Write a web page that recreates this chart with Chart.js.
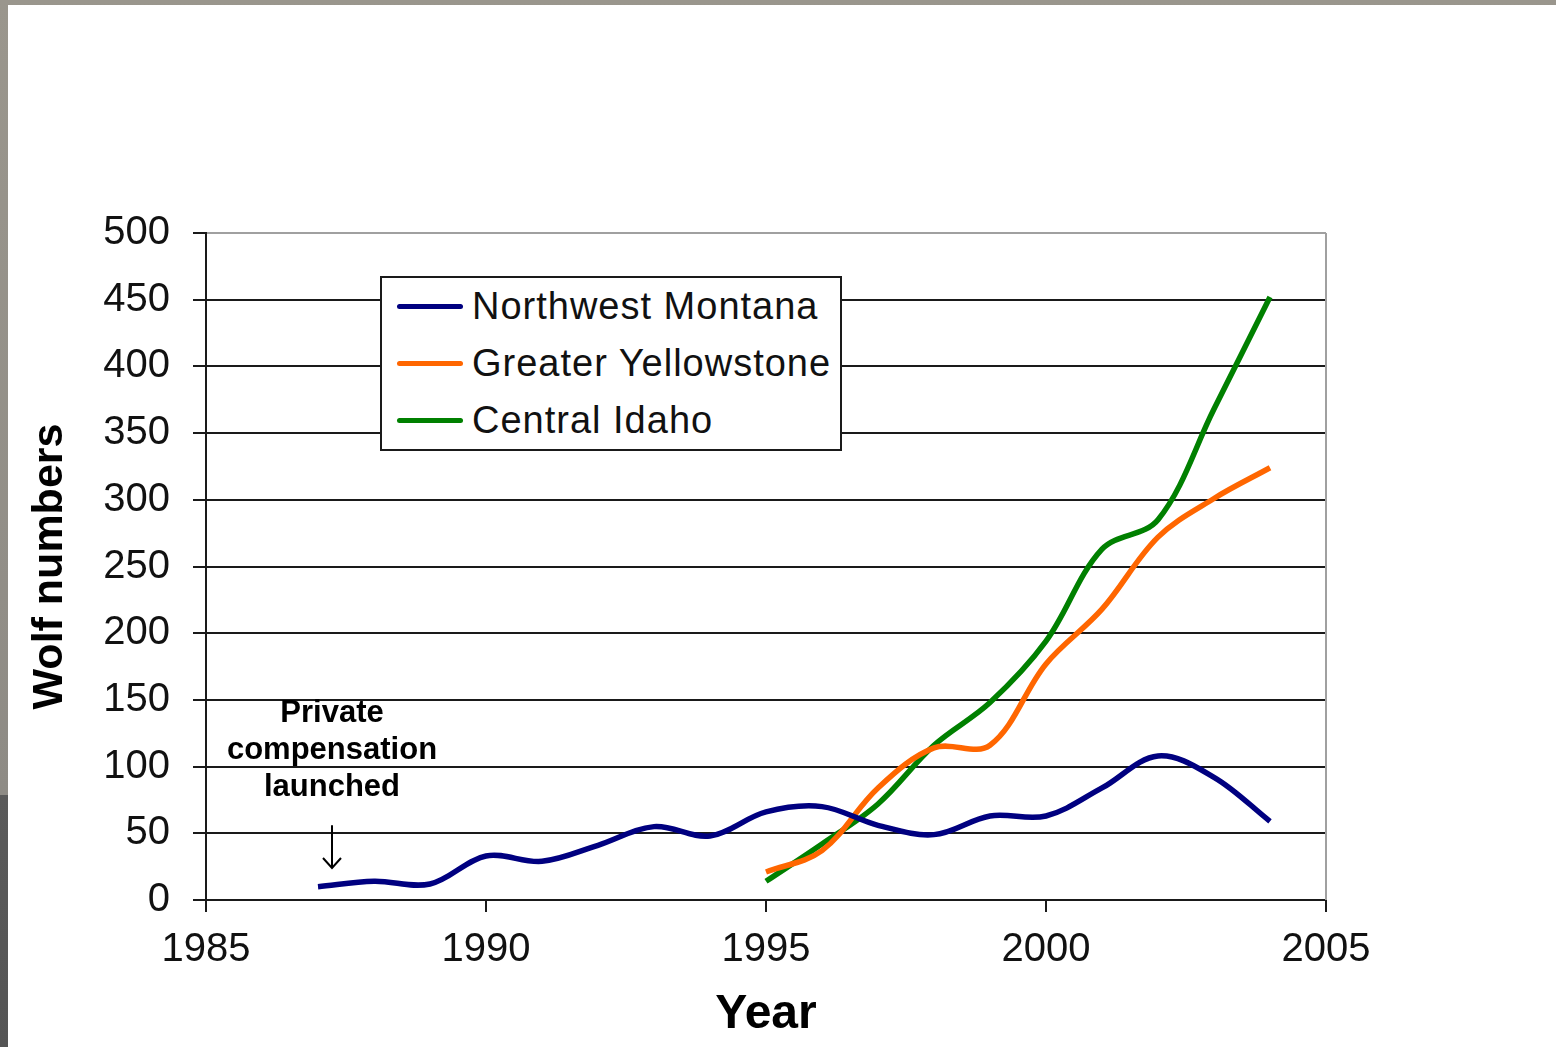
<!DOCTYPE html>
<html>
<head>
<meta charset="utf-8">
<title>Wolf numbers</title>
<script src="https://cdn.jsdelivr.net/npm/chart.js@4.4.1/dist/chart.umd.min.js"></script>
<style>
    html, body { margin: 0; padding: 0; }
    body {
        width: 1556px;
        height: 1047px;
        overflow: hidden;
        position: relative;
        background: linear-gradient(to bottom, #9a968d 0, #8e8b85 795px, #5a5a5a 795px, #555555 1047px);
    }
    #frame {
        position: absolute;
        left: 8px;
        top: 5px;
        width: 1548px;
        height: 1042px;
        background: #ffffff;
    }
    #legend {
        position: absolute;
        left: 380px;
        top: 276px;
        width: 458px;
        height: 171px;
        border: 2px solid #1a1a1a;
        background: #ffffff;
        font-family: "Liberation Sans", Arial, sans-serif;
        font-size: 38px;
        letter-spacing: 1px;
        color: #111;
    }
    #legend .row {
        height: 57px;
        display: flex;
        align-items: center;
    }
    #legend .swatch {
        width: 66px;
        height: 5px;
        border-radius: 3px;
        margin-left: 15px;
        margin-right: 9px;
    }
</style>
</head>
<body>
<div id="frame">
    <canvas id="wolfChart" width="1548" height="1042"></canvas>
</div>
<div id="legend"></div>

<script>
/* ========================================
   Wolf numbers by recovery area
   ======================================== */

// Data
const montanaYears = [1987, 1988, 1989, 1990, 1991, 1992, 1993, 1994, 1995,
                      1996, 1997, 1998, 1999, 2000, 2001, 2002, 2003, 2004];
const montanaWolves = [10, 14, 12, 33, 29, 41, 55, 48, 66,
                       70, 56, 49, 63, 63, 84, 108, 92, 59];

const reintroYears = [1995, 1996, 1997, 1998, 1999, 2000, 2001, 2002, 2003, 2004];
const yellowstoneWolves = [21, 37, 84, 114, 116, 177, 218, 272, 301, 324];
const idahoWolves = [14, 42, 72, 116, 148, 194, 263, 285, 368, 452];

const seriesNames = ['Northwest Montana', 'Greater Yellowstone', 'Central Idaho'];
const seriesColors = ['#000080', '#ff6600', '#008000'];

const xTicks = [1985, 1990, 1995, 2000, 2005];
const yTicks = [0, 50, 100, 150, 200, 250, 300, 350, 400, 450, 500];

// "Private compensation launched" note
const noteLines = ['Private', 'compensation', 'launched'];
const noteYear = 1987.25;
const noteTextLevels = [140, 112, 84];
const noteArrow = [56, 24];

const TICK_FONT = { family: '"Liberation Sans", Arial, sans-serif', size: 40 };
const INK = '#1a1a1a';

function toPoints(xs, ys) {
    return xs.map((x, i) => ({ x: x, y: ys[i] }));
}

// Gray frame on the right side of the plot
const plotFramePlugin = {
    id: 'plotFrame',
    afterDraw(chart) {
        const { ctx, chartArea } = chart;
        ctx.save();
        ctx.strokeStyle = '#a0a0a0';
        ctx.lineWidth = 2;
        ctx.beginPath();
        ctx.moveTo(chartArea.right, chartArea.top);
        ctx.lineTo(chartArea.right, chartArea.bottom);
        ctx.stroke();
        ctx.restore();
    }
};

// Annotation text and arrow, placed through the scales
const notePlugin = {
    id: 'note',
    afterDraw(chart) {
        const { ctx, scales } = chart;
        const x = scales.x.getPixelForValue(noteYear);
        ctx.save();
        ctx.fillStyle = '#000';
        ctx.font = 'bold 31px "Liberation Sans", Arial, sans-serif';
        ctx.textAlign = 'center';
        ctx.textBaseline = 'middle';
        noteLines.forEach((line, i) => {
            ctx.fillText(line, x, scales.y.getPixelForValue(noteTextLevels[i]));
        });

        const y0 = scales.y.getPixelForValue(noteArrow[0]);
        const y1 = scales.y.getPixelForValue(noteArrow[1]);
        ctx.strokeStyle = '#000';
        ctx.lineWidth = 2;
        ctx.beginPath();
        ctx.moveTo(x, y0);
        ctx.lineTo(x, y1);
        ctx.moveTo(x - 9, y1 - 10);
        ctx.lineTo(x, y1);
        ctx.lineTo(x + 9, y1 - 10);
        ctx.stroke();
        ctx.restore();
    }
};

const ctx = document.getElementById('wolfChart').getContext('2d');

const wolfChart = new Chart(ctx, {
    type: 'line',
    data: {
        datasets: [
            { label: seriesNames[0], data: toPoints(montanaYears, montanaWolves), borderColor: seriesColors[0] },
            { label: seriesNames[1], data: toPoints(reintroYears, yellowstoneWolves), borderColor: seriesColors[1] },
            { label: seriesNames[2], data: toPoints(reintroYears, idahoWolves), borderColor: seriesColors[2] }
        ]
    },
    options: {
        responsive: false,
        animation: false,
        layout: {
            padding: { top: 228, right: 230, left: 0, bottom: 0 }
        },
        elements: {
            line: { borderWidth: 5.5, tension: 0.35, fill: false },
            point: { radius: 0, hoverRadius: 0 }
        },
        plugins: {
            legend: { display: false },
            tooltip: { enabled: false }
        },
        scales: {
            x: {
                type: 'linear',
                min: xTicks[0],
                max: xTicks[xTicks.length - 1],
                afterBuildTicks(scale) {
                    scale.ticks = xTicks.map(v => ({ value: v }));
                },
                afterFit(scale) {
                    scale.height = 147;
                },
                ticks: {
                    font: TICK_FONT,
                    color: '#111',
                    padding: 14,
                    maxRotation: 0,
                    callback: v => String(v)
                },
                grid: {
                    drawOnChartArea: false,
                    drawTicks: true,
                    tickLength: 12,
                    color: INK,
                    lineWidth: 2
                },
                border: { display: true, color: INK, width: 2 },
                title: {
                    display: true,
                    text: 'Year',
                    color: '#000',
                    font: { family: '"Liberation Sans", Arial, sans-serif', size: 48, weight: 'bold' },
                    padding: { top: 0, bottom: 3 }
                }
            },
            y: {
                type: 'linear',
                min: yTicks[0],
                max: yTicks[yTicks.length - 1],
                afterBuildTicks(scale) {
                    scale.ticks = yTicks.map(v => ({ value: v }));
                },
                afterFit(scale) {
                    scale.width = 198;
                },
                ticks: {
                    font: TICK_FONT,
                    color: '#111',
                    padding: 23,
                    callback: v => String(v)
                },
                grid: {
                    drawOnChartArea: true,
                    drawTicks: true,
                    tickLength: 13,
                    lineWidth: 2,
                    color: c => (c.tick && c.tick.value === 500 ? '#a0a0a0' : INK),
                    tickColor: INK
                },
                border: { display: true, color: INK, width: 2 },
                title: {
                    display: true,
                    text: 'Wolf numbers',
                    color: '#000',
                    font: { family: '"Liberation Sans", Arial, sans-serif', size: 43, weight: 'bold' },
                    padding: { top: 16, bottom: 0 }
                }
            }
        }
    },
    plugins: [plotFramePlugin, notePlugin]
});

// Legend box drawn as HTML from the chart's datasets
function renderLegend(chart) {
    const container = document.getElementById('legend');
    container.innerHTML = chart.data.datasets.map(ds => `
        <div class="row">
            <div class="swatch" style="background:${ds.borderColor};"></div>
            <span>${ds.label}</span>
        </div>
    `).join('');
}

renderLegend(wolfChart);
</script>
</body>
</html>
